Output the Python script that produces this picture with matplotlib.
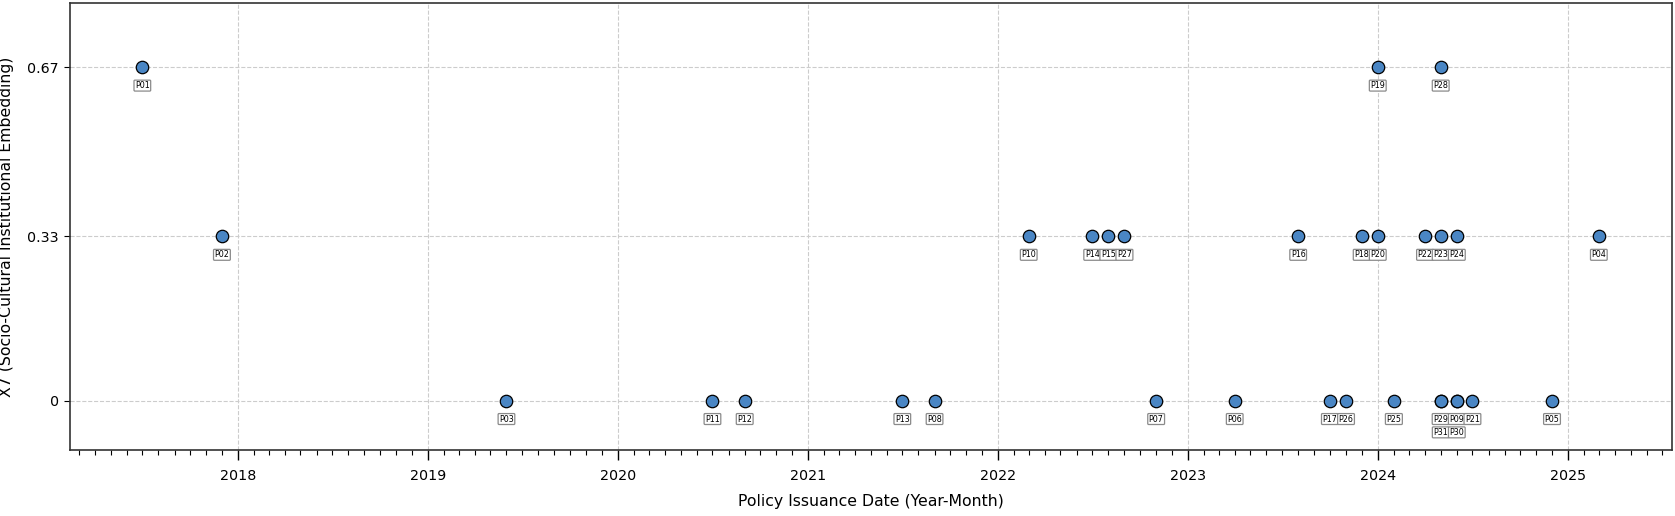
import matplotlib
matplotlib.use("Agg")
import matplotlib.pyplot as plt
import matplotlib.dates as mdates
import pandas as pd
from collections import defaultdict

policy_ids = ["P01", "P02", "P03", "P11", "P12", "P13", "P08", "P10", "P14", "P15",
              "P27", "P07", "P06", "P16", "P17", "P26", "P18", "P20", "P19", "P25",
              "P22", "P23", "P28", "P29", "P31", "P24", "P09", "P30", "P21", "P05", "P04"]
issue_dates = ["2017-07", "2017-12", "2019-06", "2020-07", "2020-09", "2021-07", "2021-09",
               "2022-03", "2022-07", "2022-08", "2022-09", "2022-11", "2023-04", "2023-08",
               "2023-10", "2023-11", "2023-12", "2024-01", "2024-01", "2024-02", "2024-04",
               "2024-05", "2024-05", "2024-05", "2024-05", "2024-06", "2024-06", "2024-06",
               "2024-07", "2024-12", "2025-03"]
x7_values = [0.67, 0.33, 0, 0, 0, 0, 0, 0.33, 0.33, 0.33,
             0.33, 0, 0, 0.33, 0, 0, 0.33, 0.33, 0.67, 0,
             0.33, 0.33, 0.67, 0, 0, 0.33, 0, 0, 0, 0, 0.33]
y_ticks = [0, 0.33, 0.67]
y_tick_labels = ["0", "0.33", "0.67"]

dates = pd.to_datetime(issue_dates, format="%Y-%m")

fig, ax = plt.subplots(figsize=(16.75, 5.16), dpi=100)
fig.subplots_adjust(left=0.0415, right=0.998, top=0.995, bottom=0.127)

ax.scatter(dates, x7_values, s=80, color="#4a86c4", edgecolor="black",
           linewidth=0.9, zorder=3)

seen = defaultdict(int)
for pid, d, v in zip(policy_ids, dates, x7_values):
    key = (d, v)
    row = seen[key]
    seen[key] += 1
    ax.annotate(pid, (d, v), xytext=(0, -13.2 - 9.6 * row), textcoords="offset points",
                ha="center", va="center", fontsize=5.8, zorder=4,
                bbox=dict(boxstyle="round,pad=0.12", facecolor="white",
                          edgecolor="#8a8a8a", linewidth=0.9))

ax.set_ylim(-0.1, 0.8)
ax.set_yticks(y_ticks)
ax.set_yticklabels(y_tick_labels)

ax.xaxis.set_major_locator(mdates.YearLocator())
ax.xaxis.set_major_formatter(mdates.DateFormatter("%Y"))
ax.xaxis.set_minor_locator(mdates.MonthLocator())
ax.tick_params(axis="x", which="major", length=7, width=1.0, labelsize=10.3, pad=6)
ax.tick_params(axis="x", which="minor", length=3.5, width=0.8)
ax.tick_params(axis="y", which="major", length=4, labelsize=10.3)

ax.grid(True, which="major", linestyle="--", color="#cccccc", linewidth=0.8, zorder=0)
ax.set_axisbelow(True)

for sp in ax.spines.values():
    sp.set_linewidth(1.2)
    sp.set_color("#333333")

ax.set_xlabel("Policy Issuance Date (Year-Month)", fontsize=11.3, labelpad=8)
ax.set_ylabel("X7 (Socio-Cultural Institutional Embedding)", fontsize=11.3, labelpad=10)

fig.savefig("out.png", dpi=100)
